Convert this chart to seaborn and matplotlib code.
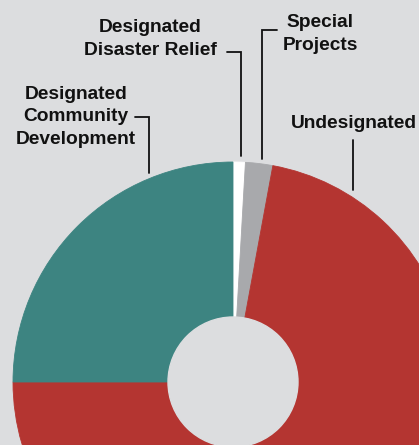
import numpy as np
import seaborn as sns
import matplotlib.pyplot as plt

# Données (parts en %)
categories = ["Designated\nDisaster Relief", "Special\nProjects", "Undesignated",
              "Designated\nCommunity\nDevelopment"]
shares = [0.9, 2.0, 72.1, 25.0]
colors = ["#ffffff", "#a8a9ac", "#b43531", "#3d8481"]

bg = "#dcdddf"
sns.set_theme(style="white")
plt.rcParams['font.family'] = ['Liberation Sans', 'DejaVu Sans']

W, H = 419, 445
fig = plt.figure(figsize=(W / 100, H / 100), dpi=100, facecolor=bg)
ax = fig.add_axes([0, 0, 1, 1])
ax.set_facecolor(bg)

# centre et rayon du donut en pixels
cx, cy, R = 233, 382, 220


def px(x, y):
    return (x - cx) / R, (cy - y) / R


wedges, _ = ax.pie(shares, colors=colors, startangle=90, counterclock=False,
                   radius=1, wedgeprops=dict(width=(R - 65) / R, linewidth=0.6))
for w, c in zip(wedges, colors):
    w.set_edgecolor(c)
# trou central
ax.add_patch(plt.Circle((0, 0), 65 / R, color=bg, zorder=5))

ax.set_xlim(px(0, 0)[0], px(W, 0)[0])
ax.set_ylim(px(0, H)[1], px(0, 0)[1])
ax.set_aspect('equal')
ax.axis('off')

# étiquettes et lignes de rappel
labels = [
    (categories[0], (150, 39), [(227, 52), (241, 52), (241, 156)]),
    (categories[1], (320, 34), [(277, 30), (262, 30), (262, 159)]),
    (categories[2], (354, 124), [(353, 140), (353, 190)]),
    (categories[3], (76, 117), [(135, 117), (149, 117), (149, 173)]),
]
for text, (tx, ty), path in labels:
    x, y = px(tx, ty)
    ax.text(x, y, text, ha='center', va='center', multialignment='center',
            fontsize=13.8, fontweight='bold', color='#111111', linespacing=1.42,
            zorder=10)
    pts = np.array([px(a, b) for a, b in path])
    ax.plot(pts[:, 0], pts[:, 1], color='#111111', lw=1.3, zorder=10,
            solid_joinstyle='miter')

plt.savefig('out.png', dpi=100, facecolor=bg)
